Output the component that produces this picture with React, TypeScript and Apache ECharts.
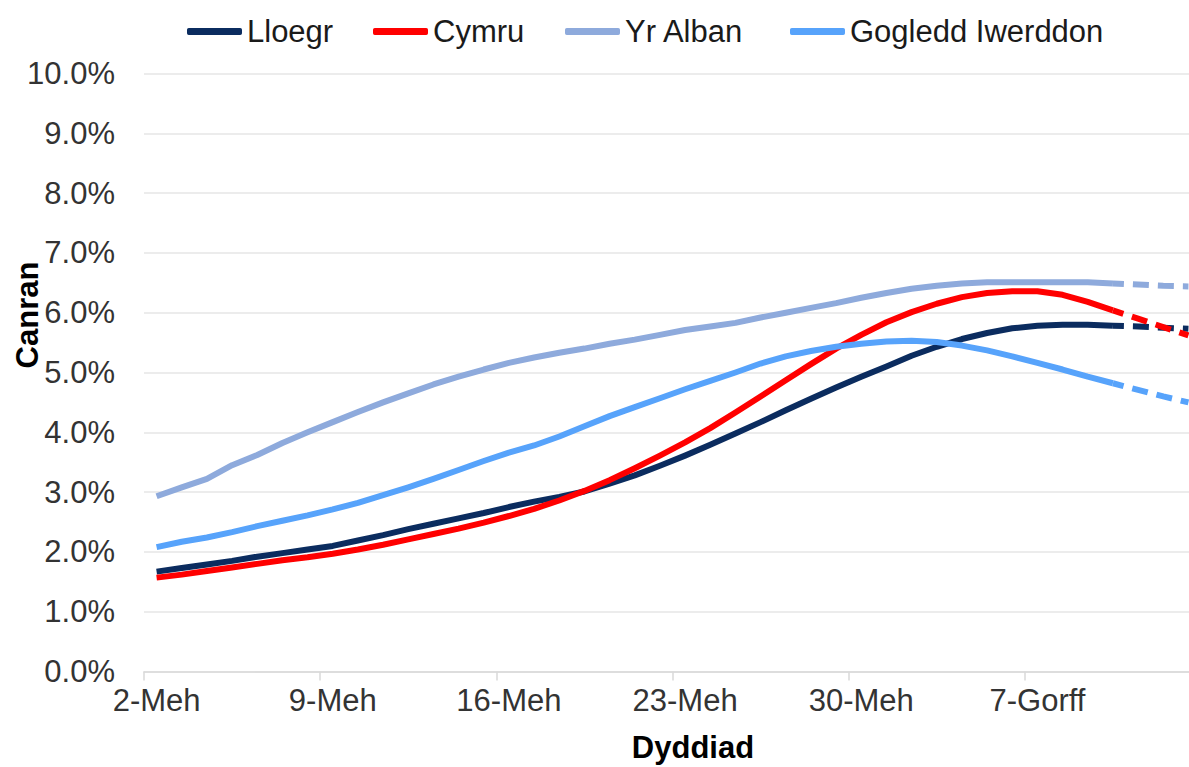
import React, { useEffect, useRef } from "react";
import * as echarts from "echarts";

const categories = [
  "2-Meh", "3-Meh", "4-Meh", "5-Meh", "6-Meh", "7-Meh", "8-Meh",
  "9-Meh", "10-Meh", "11-Meh", "12-Meh", "13-Meh", "14-Meh", "15-Meh",
  "16-Meh", "17-Meh", "18-Meh", "19-Meh", "20-Meh", "21-Meh", "22-Meh",
  "23-Meh", "24-Meh", "25-Meh", "26-Meh", "27-Meh", "28-Meh", "29-Meh",
  "30-Meh", "1-Gorff", "2-Gorff", "3-Gorff", "4-Gorff", "5-Gorff", "6-Gorff",
  "7-Gorff", "8-Gorff", "9-Gorff", "10-Gorff", "11-Gorff", "12-Gorff", "13-Gorff",
];

const seriesNames = ["Lloegr", "Cymru", "Yr Alban", "Gogledd Iwerddon"];

const lloegr = [
  1.67, 1.73, 1.79, 1.85, 1.92, 1.98, 2.04,
  2.10, 2.19, 2.28, 2.38, 2.47, 2.56, 2.65,
  2.75, 2.84, 2.92, 3.01, 3.14, 3.28, 3.44,
  3.61, 3.79, 3.98, 4.17, 4.37, 4.56, 4.75,
  4.93, 5.10, 5.28, 5.43, 5.56, 5.66, 5.74,
  5.78, 5.80, 5.80, 5.78, 5.77, 5.75, 5.73,
];

const cymru = [
  1.57, 1.62, 1.68, 1.74, 1.80, 1.86, 1.91,
  1.97, 2.04, 2.12, 2.21, 2.30, 2.39, 2.49,
  2.60, 2.72, 2.86, 3.02, 3.20, 3.40, 3.61,
  3.83, 4.07, 4.33, 4.60, 4.87, 5.14, 5.40,
  5.63, 5.84, 6.01, 6.15, 6.26, 6.33, 6.36,
  6.36, 6.30, 6.18, 6.04, 5.90, 5.76, 5.62,
];

const yrAlban = [
  2.93, 3.08, 3.22, 3.45, 3.62, 3.82, 4.00,
  4.17, 4.34, 4.50, 4.65, 4.80, 4.93, 5.05,
  5.16, 5.25, 5.33, 5.40, 5.48, 5.55, 5.63,
  5.71, 5.77, 5.83, 5.92, 6.00, 6.08, 6.16,
  6.25, 6.33, 6.40, 6.45, 6.49, 6.51, 6.51,
  6.51, 6.51, 6.51, 6.49, 6.47, 6.45, 6.44,
];

const gogledd = [
  2.08, 2.17, 2.24, 2.33, 2.43, 2.52, 2.61,
  2.71, 2.82, 2.95, 3.08, 3.22, 3.37, 3.52,
  3.66, 3.78, 3.93, 4.10, 4.27, 4.42, 4.57,
  4.72, 4.86, 5.00, 5.15, 5.27, 5.36, 5.43,
  5.48, 5.52, 5.53, 5.51, 5.45, 5.37, 5.27,
  5.16, 5.05, 4.93, 4.82, 4.71, 4.60, 4.50,
];

// index of the first projected (dashed) point
const projectionStart = 38;

const yTicks = [0, 1, 2, 3, 4, 5, 6, 7, 8, 9, 10];

const colors = ["#0b2c5f", "#ff0000", "#8eaadc", "#57a3fb"];
const legendLeft = [187, 373, 565, 790];
const FONT = '"Liberation Sans", Arial, sans-serif';

export default function App() {
  const ref = useRef<HTMLDivElement>(null);

  useEffect(() => {
    if (!ref.current) return;
    const chart = echarts.init(ref.current, undefined, { renderer: "svg" });
    const allData = [lloegr, cymru, yrAlban, gogledd];

    const series: any[] = [];
    allData.forEach((vals, i) => {
      series.push({
        name: seriesNames[i],
        type: "line",
        data: vals.map((v, k) => (k <= projectionStart ? v : "-")),
        showSymbol: false,
        symbol: "none",
        lineStyle: { color: colors[i], width: 6, join: "round", cap: "butt" },
        itemStyle: { color: colors[i] },
        z: 2 + i,
      });
      series.push({
        name: seriesNames[i],
        type: "line",
        data: vals.map((v, k) => (k >= projectionStart ? v : "-")),
        showSymbol: false,
        symbol: "none",
        lineStyle: {
          color: colors[i],
          width: 6,
          type: [16, 9],
          dashOffset: 5,
          join: "round",
        },
        itemStyle: { color: colors[i] },
        z: 2 + i,
      });
    });

    chart.setOption({
      animation: false,
      textStyle: { fontFamily: FONT },
      grid: { left: 144, top: 73.5, width: 1057, height: 598, containLabel: false },
      legend: seriesNames.map((n, i) => ({
        data: [{ name: n, icon: "roundRect" }],
        left: legendLeft[i],
        top: 16,
        padding: 0,
        itemWidth: 55,
        itemHeight: 7,
        itemGap: 0,
        selectedMode: false,
        textStyle: { fontSize: 31, color: "#1a1a1a", fontFamily: FONT },
      })),
      xAxis: {
        type: "category",
        data: categories,
        boundaryGap: true,
        axisLine: { show: true, lineStyle: { color: "#d9d9d9", width: 1.5 } },
        axisTick: { show: true, interval: 6, length: 9, lineStyle: { color: "#d9d9d9", width: 1.5 } },
        axisLabel: { interval: 6, fontSize: 31, color: "#333333", margin: 13, fontFamily: FONT },
        splitLine: { show: false },
      },
      yAxis: {
        type: "value",
        min: yTicks[0],
        max: yTicks[yTicks.length - 1],
        interval: 1,
        axisLine: { show: false },
        axisTick: { show: false },
        axisLabel: {
          fontSize: 31,
          color: "#333333",
          margin: 29,
          fontFamily: FONT,
          formatter: (v: number) => v.toFixed(1) + "%",
        },
        splitLine: { show: true, lineStyle: { color: "#e6e6e6", width: 1.5 } },
      },
      graphic: [
        {
          type: "text",
          x: 27,
          y: 315,
          rotation: Math.PI / 2,
          style: {
            text: "Canran",
            font: `bold 31px ${FONT}`,
            fill: "#000000",
            textAlign: "center",
            textVerticalAlign: "middle",
            align: "center",
            verticalAlign: "middle",
          },
        },
        {
          type: "text",
          x: 693,
          y: 747,
          style: {
            text: "Dyddiad",
            font: `bold 31px ${FONT}`,
            fill: "#000000",
            textAlign: "center",
            textVerticalAlign: "middle",
            align: "center",
            verticalAlign: "middle",
          },
        },
      ],
      series,
    });

    return () => chart.dispose();
  }, []);

  // The plot area runs slightly past the right edge of the 1189px window,
  // as in the reference, so the chart canvas is a little wider than the view.
  return (
    <div
      ref={ref}
      style={{ position: "fixed", left: 0, top: 0, width: 1201, height: 767, background: "#ffffff" }}
    />
  );
}
